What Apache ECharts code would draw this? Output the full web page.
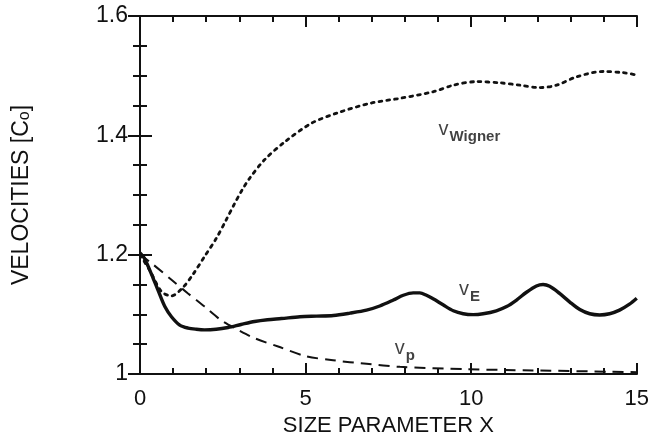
<!DOCTYPE html>
<html>
<head>
<meta charset="utf-8">
<script src="https://cdn.jsdelivr.net/npm/echarts@6/dist/echarts.min.js"></script>
<style>
  html, body { margin: 0; padding: 0; background: #fff; }
  #chart { width: 652px; height: 442px; }
</style>
</head>
<body>
<div id="chart"></div>
<script>
// Energy velocity v_E, phase velocity v_p and Wigner velocity vs size parameter
const vEx = [0, 0.12, 0.25, 0.4, 0.54, 0.75, 0.95, 1.2, 1.45, 1.7, 1.95, 2.3, 2.66, 3.05, 3.46, 3.85, 4.27, 4.83, 5.33, 5.84, 6.34, 6.84, 7.24, 7.65, 7.95, 8.25, 8.45, 8.65, 8.85, 9.15, 9.46, 9.76, 10.06, 10.36, 10.76, 11.07, 11.37, 11.67, 11.97, 12.17, 12.37, 12.67, 12.97, 13.28, 13.58, 13.88, 14.18, 14.48, 14.78, 15];
const vEy = [1.203, 1.195, 1.180, 1.160, 1.141, 1.113, 1.096, 1.082, 1.077, 1.075, 1.074, 1.075, 1.078, 1.083, 1.088, 1.091, 1.093, 1.096, 1.097, 1.098, 1.102, 1.107, 1.114, 1.124, 1.132, 1.136, 1.136, 1.132, 1.126, 1.116, 1.106, 1.101, 1.0995, 1.101, 1.106, 1.113, 1.124, 1.137, 1.1475, 1.150, 1.147, 1.135, 1.121, 1.108, 1.101, 1.099, 1.101, 1.107, 1.117, 1.127];

const vPx = [0, 0.34, 0.95, 1.45, 1.95, 2.45, 2.96, 3.46, 4.17, 5.0, 5.83, 6.84, 7.85, 9.86, 11.87, 15];
const vPy = [1.2, 1.186, 1.158, 1.135, 1.113, 1.090, 1.074, 1.060, 1.046, 1.030, 1.023, 1.017, 1.012, 1.008, 1.006, 1.003];

const vWx = [0, 0.3, 0.65, 0.95, 1.28, 1.6, 1.95, 2.3, 2.6, 2.86, 3.08, 3.31, 3.76, 4.37, 5.17, 5.98, 6.98, 7.85, 8.85, 9.46, 10.16, 10.87, 11.47, 12.07, 12.58, 13.18, 13.98, 14.59, 15];
const vWy = [1.2, 1.173, 1.138, 1.131, 1.144, 1.167, 1.197, 1.227, 1.258, 1.286, 1.308, 1.328, 1.359, 1.389, 1.420, 1.438, 1.454, 1.462, 1.473, 1.484, 1.490, 1.488, 1.484, 1.480, 1.484, 1.498, 1.507, 1.505, 1.501];

const xTicks = [0, 5, 10, 15];
const yTicks = [1, 1.2, 1.4, 1.6];

// curve labels: left edge of the "v", in data units
const curveLabels = [
  { coord: [9.0, 1.412], sub: 'Wigner' },
  { coord: [9.62, 1.144], sub: 'E' },
  { coord: [7.68, 1.045], sub: 'p' }
];

const pairs = (xs, ys) => xs.map((x, i) => [x, ys[i]]);
const FONT = 'Liberation Sans';
const INK = '#111';

// one axis per tick family: fine ticks and long ticks, on all four sides
function xAx(position, interval, tickLen, extra) {
  return Object.assign({
    type: 'value', position: position, min: 0, max: 15, interval: interval,
    axisLine: { show: true, lineStyle: { color: INK, width: 2 } },
    axisTick: { inside: true, length: tickLen, lineStyle: { color: INK, width: 2 } },
    axisLabel: { show: false },
    splitLine: { show: false }
  }, extra || {});
}
function yAx(position, interval, tickLen, extra) {
  return Object.assign({
    type: 'value', position: position, min: 1, max: 1.6, interval: interval,
    axisLine: { show: true, lineStyle: { color: INK, width: 2 } },
    axisTick: { inside: true, length: tickLen, lineStyle: { color: INK, width: 2 } },
    axisLabel: { show: false },
    splitLine: { show: false }
  }, extra || {});
}

const chart = echarts.init(document.getElementById('chart'), null, { renderer: 'canvas' });
chart.setOption({
  animation: false,
  backgroundColor: '#fff',
  grid: { left: 140, right: 15, top: 16, bottom: 68 },
  xAxis: [
    xAx('bottom', 5, 11, {
      name: 'SIZE PARAMETER X', nameLocation: 'middle', nameGap: 40,
      nameTextStyle: { fontSize: 22, fontFamily: FONT, color: INK },
      axisLabel: {
        show: true, margin: 14, fontSize: 22, fontFamily: FONT, color: INK,
        formatter: v => (xTicks.includes(v) ? String(v) : '')
      }
    }),
    xAx('bottom', 1, 6),
    xAx('top', 5, 11),
    xAx('top', 1, 6)
  ],
  yAxis: [
    yAx('left', 0.2, 12, {
      name: 'VELOCITIES [C{s|o}]', nameLocation: 'middle', nameGap: 107, nameRotate: 90,
      nameTextStyle: {
        fontSize: 23, fontFamily: FONT, color: INK,
        rich: { s: { fontSize: 16, fontFamily: FONT, color: INK, padding: [7, 0, 0, 0] } }
      },
      axisLabel: {
        show: true, margin: 12, fontSize: 23, fontFamily: FONT, color: INK,
        formatter: v => {
          const t = yTicks.find(k => Math.abs(k - v) < 1e-6);
          return t === undefined ? '' : (t === 1 ? '1' : t.toFixed(1));
        }
      }
    }),
    yAx('left', 0.05, 7),
    yAx('right', 0.2, 12),
    yAx('right', 0.05, 7)
  ],
  series: [
    {
      name: 'vE', type: 'line', smooth: 0.3, showSymbol: false,
      data: pairs(vEx, vEy),
      lineStyle: { color: INK, width: 3.4 }
    },
    {
      name: 'vp', type: 'line', smooth: 0.3, showSymbol: false,
      data: pairs(vPx, vPy),
      lineStyle: { color: INK, width: 2, type: [11, 7] }
    },
    {
      name: 'vWigner', type: 'line', smooth: 0.3, showSymbol: false,
      data: pairs(vWx, vWy),
      lineStyle: { color: INK, width: 2.8, type: [2.8, 5], cap: 'round' }
    },
    {
      name: 'labels', type: 'scatter', silent: true,
      symbol: 'circle', symbolSize: 1,
      itemStyle: { color: 'rgba(0,0,0,0)' },
      data: curveLabels.map(l => ({ value: l.coord, sub: l.sub })),
      label: {
        show: true, position: 'right', distance: 0,
        formatter: p => '{v|v}{sub|' + p.data.sub + '}',
        rich: {
          v: { fontSize: 20, fontFamily: FONT, color: INK, lineHeight: 18, verticalAlign: 'top' },
          sub: { fontSize: 15, fontFamily: FONT, fontWeight: 'bold', color: INK, lineHeight: 16, padding: [10, 0, 0, 1], verticalAlign: 'top' }
        }
      }
    }
  ]
});
</script>
</body>
</html>
